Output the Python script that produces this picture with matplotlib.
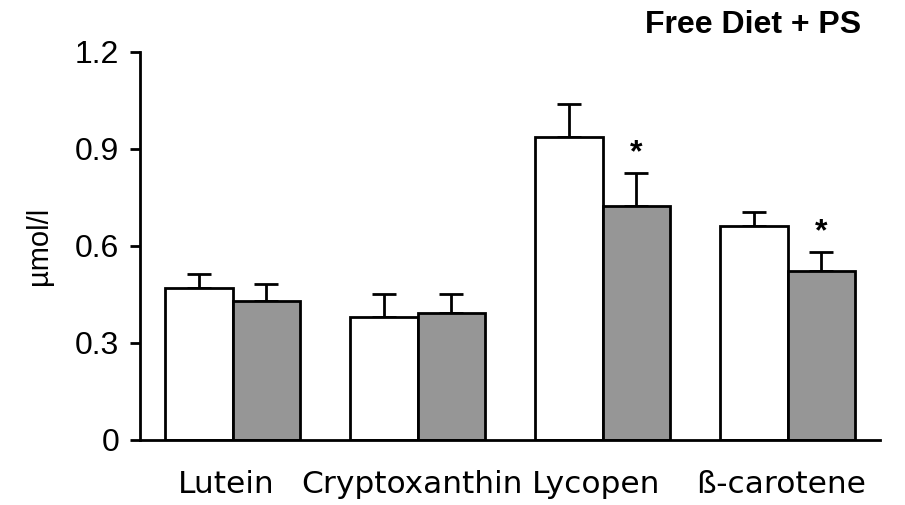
import numpy as np
import matplotlib
matplotlib.use("Agg")
import matplotlib.pyplot as plt
import matplotlib.transforms as mtransforms

# carotenoid plasma levels, control (white) vs PS (grey)
categories = ["Lutein", "Cryptoxanthin", "Lycopen", "ß-carotene"]
control_mean = [0.470, 0.380, 0.937, 0.662]
control_err = [0.041, 0.070, 0.100, 0.041]
ps_mean = [0.429, 0.390, 0.722, 0.520]
ps_err = [0.051, 0.060, 0.103, 0.061]
significant = [False, False, True, True]
yticks = [0, 0.3, 0.6, 0.9, 1.2]
ytick_labels = ["0", "0.3", "0.6", "0.9", "1.2"]

LW = 2.0
GREY = "#969696"

fig = plt.figure(figsize=(9.05, 5.05), dpi=100)
ax = fig.add_axes([0.1547, 0.1297, 0.9724 - 0.1547, 0.8976 - 0.1297])

x = np.arange(len(categories))
w = 0.367

ax.bar(x - w / 2, control_mean, w, color="white", edgecolor="black", linewidth=LW, zorder=2)
ax.bar(x + w / 2, ps_mean, w, color=GREY, edgecolor="black", linewidth=LW, zorder=2)

# upper error bars only
ax.errorbar(x - w / 2, control_mean, yerr=[np.zeros(len(x)), control_err], fmt="none",
            ecolor="black", elinewidth=LW, capsize=8.3, capthick=LW, zorder=1)
ax.errorbar(x + w / 2, ps_mean, yerr=[np.zeros(len(x)), ps_err], fmt="none",
            ecolor="black", elinewidth=LW, capsize=8.3, capthick=LW, zorder=1)

for xi, m, e, s in zip(x, ps_mean, ps_err, significant):
    if s:
        ax.annotate("*", (xi + w / 2, m + e), xytext=(0, 3.5), textcoords="offset points",
                    ha="center", va="bottom", fontsize=23, fontweight="bold",
                    family="Liberation Sans")

ax.set_xlim(-0.5, 3.5)
ax.set_ylim(0, 1.2)
ax.set_yticks(yticks)
ax.set_yticklabels(ytick_labels, family="Liberation Sans", fontsize=23)
ax.tick_params(axis="y", length=7, width=LW, pad=8)
ax.set_xticks(x)
ax.set_xticklabels(categories, family="DejaVu Sans", fontsize=22.5)
ax.tick_params(axis="x", length=0, pad=22)
shift = mtransforms.ScaledTranslation(-6 / 100, 0, fig.dpi_scale_trans)
for lbl in ax.get_xticklabels():
    lbl.set_transform(lbl.get_transform() + shift)

for side in ["top", "right"]:
    ax.spines[side].set_visible(False)
for side in ["left", "bottom"]:
    ax.spines[side].set_linewidth(LW)

ax.set_ylabel("µmol/l", family="Liberation Sans", fontsize=21, labelpad=16)

fig.text(0.951, 1 - 33 / 505, "Free Diet + PS", ha="right", va="baseline",
         fontsize=23, fontweight="bold", family="Liberation Sans")

fig.savefig("out.png", dpi=100, facecolor="white")
